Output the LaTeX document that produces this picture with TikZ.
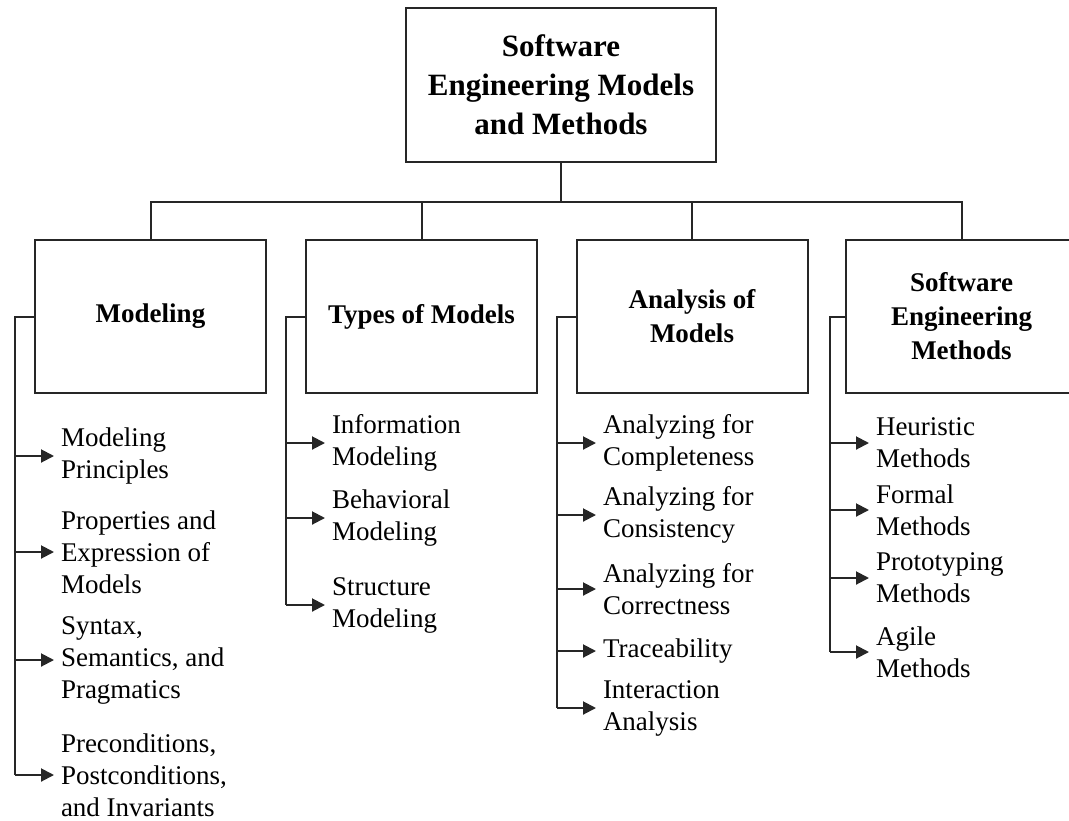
\documentclass[tikz,border=0pt]{standalone}
\usepackage{fontspec}
\setmainfont{Liberation Serif}
\usetikzlibrary{arrows.meta}

\begin{document}
\begin{tikzpicture}[x=1pt, y=-1pt, line width=2pt, draw=black!85,
    box/.style={draw, inner sep=0pt, align=center, minimum width=231pt, minimum height=153pt, font=\fontsize{27}{34}\selectfont\bfseries},
    leaf/.style={anchor=west, inner xsep=6pt, inner ysep=0pt, align=left, font=\fontsize{27}{32}\selectfont},
    arr/.style={-{Triangle[length=13pt, width=13pt]}}]
    \useasboundingbox (0,0) rectangle (1069,820);

    \node[box, minimum width=310pt, minimum height=154pt, font=\fontsize{31}{39}\selectfont\bfseries] (top) at (561,85) {Software\\Engineering Models\\and Methods};
    \node[box] (mod) at (150.5,316.5) {Modeling};
    \node[box] (typ) at (421.5,316.5) {Types of Models};
    \node[box] (ana) at (692,316.5) {Analysis of\\Models};
    \node[box] (sem) at (961.5,316.5) {Software\\Engineering\\Methods};

    \coordinate (hub) at (561,202);
    \draw (top) -- (hub);
    \draw (mod.north) |- (hub);
    \draw (typ.north) |- (hub);
    \draw (ana.north) |- (hub);
    \draw (sem.north) |- (hub);

    % Modeling
    \coordinate (mb) at (15,316.5);
    \node[leaf] (m1) at (54,456) {Modeling\\Principles};
    \node[leaf] (m2) at (54,552) {Properties and\\Expression of\\Models};
    \node[leaf] (m3) at (54,660) {Syntax,\\Semantics, and\\Pragmatics};
    \node[leaf] (m4) at (54,775) {Preconditions,\\Postconditions,\\and Invariants};
    \draw (mod.west) -- (mb) -- (mb |- m4.west);
    \draw[arr] (mb |- m1.west) -- (m1.west);
    \draw[arr] (mb |- m2.west) -- (m2.west);
    \draw[arr] (mb |- m3.west) -- (m3.west);
    \draw[arr] (mb |- m4.west) -- (m4.west);

    % Types of Models
    \coordinate (tb) at (286,316.5);
    \node[leaf] (t1) at (325,443) {Information\\Modeling};
    \node[leaf] (t2) at (325,518) {Behavioral\\Modeling};
    \node[leaf] (t3) at (325,605) {Structure\\Modeling};
    \draw (typ.west) -- (tb) -- (tb |- t3.west);
    \draw[arr] (tb |- t1.west) -- (t1.west);
    \draw[arr] (tb |- t2.west) -- (t2.west);
    \draw[arr] (tb |- t3.west) -- (t3.west);

    % Analysis of Models
    \coordinate (ab) at (557,316.5);
    \node[leaf] (a1) at (596,443) {Analyzing for\\Completeness};
    \node[leaf] (a2) at (596,515) {Analyzing for\\Consistency};
    \node[leaf] (a3) at (596,589) {Analyzing for\\Correctness};
    \node[leaf] (a4) at (596,651) {Traceability};
    \node[leaf] (a5) at (596,708) {Interaction\\Analysis};
    \draw (ana.west) -- (ab) -- (ab |- a5.west);
    \draw[arr] (ab |- a1.west) -- (a1.west);
    \draw[arr] (ab |- a2.west) -- (a2.west);
    \draw[arr] (ab |- a3.west) -- (a3.west);
    \draw[arr] (ab |- a4.west) -- (a4.west);
    \draw[arr] (ab |- a5.west) -- (a5.west);

    % Software Engineering Methods
    \coordinate (sb) at (830,316.5);
    \node[leaf] (s1) at (869,443) {Heuristic\\Methods};
    \node[leaf] (s2) at (869,510) {Formal\\Methods};
    \node[leaf] (s3) at (869,578) {Prototyping\\Methods};
    \node[leaf] (s4) at (869,652) {Agile\\Methods};
    \draw (sem.west) -- (sb) -- (sb |- s4.west);
    \draw[arr] (sb |- s1.west) -- (s1.west);
    \draw[arr] (sb |- s2.west) -- (s2.west);
    \draw[arr] (sb |- s3.west) -- (s3.west);
    \draw[arr] (sb |- s4.west) -- (s4.west);
\end{tikzpicture}
\end{document}
